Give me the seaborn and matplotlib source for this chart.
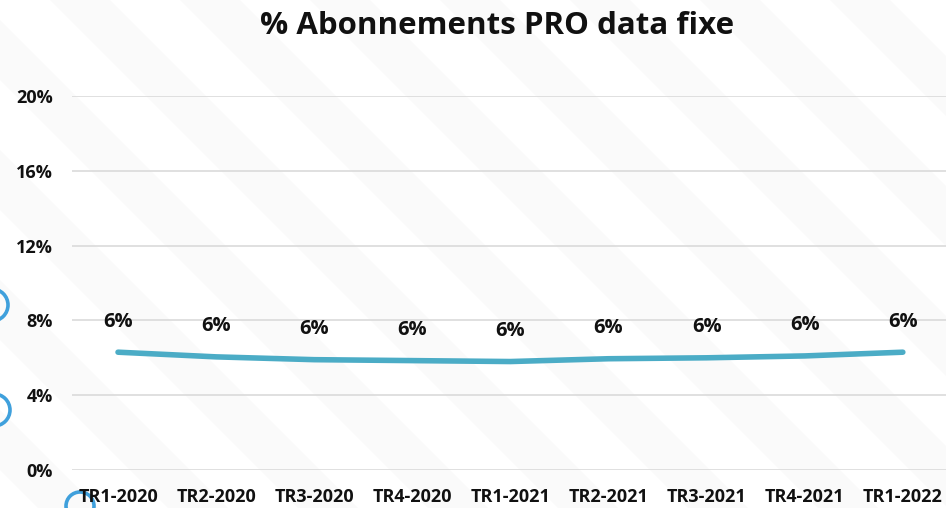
import matplotlib
matplotlib.use("Agg")
import matplotlib.pyplot as plt
import matplotlib.patches as mpatches
import pandas as pd
import seaborn as sns

# Quarterly share of PRO fixed-data subscriptions
quarters = ["TR1-2020", "TR2-2020", "TR3-2020", "TR4-2020", "TR1-2021",
            "TR2-2021", "TR3-2021", "TR4-2021", "TR1-2022"]
share = [0.063, 0.0605, 0.059, 0.0585, 0.058, 0.0595, 0.060, 0.061, 0.063]
yticks = [0.0, 0.04, 0.08, 0.12, 0.16, 0.20]
title = "% Abonnements PRO data fixe"

sns.set_theme(style="white")
plt.rcParams["font.family"] = ["Open Sans", "DejaVu Sans"]
plt.rcParams["font.weight"] = "bold"

df = pd.DataFrame({"quarter": quarters, "share": share, "pos": range(len(quarters))})

fig = plt.figure(figsize=(9.46, 5.08), dpi=100)
fig.patch.set_facecolor("white")

# faint diagonal bands in the background
bg = fig.add_axes([0, 0, 1, 1], zorder=-2)
bg.set_xlim(0, 946)
bg.set_ylim(508, 0)
bg.axis("off")
for x0 in range(-600, 1000, 130):
    band = mpatches.Polygon([(x0, 0), (x0 + 60, 0), (x0 + 60 + 600, 600), (x0 + 600, 600)],
                            closed=True, facecolor="#fafafa", edgecolor="none")
    bg.add_patch(band)
# decorative rings on the left edge
for cx, cy, r in [(-8, 305, 16), (-6, 410, 16), (80, 506, 14)]:
    bg.add_patch(mpatches.Circle((cx, cy), r, fill=False, edgecolor="#3fa0dc", linewidth=2.6))

ax = fig.add_axes([72 / 946, 1 - 470 / 508, 1 - 72 / 946, (470 - 96) / 508])
ax.patch.set_alpha(0)

sns.lineplot(data=df, x="pos", y="share", ax=ax, color="#4bacc6", linewidth=4.0,
             solid_capstyle="round", solid_joinstyle="round")

for p, v in zip(df["pos"], df["share"]):
    ax.annotate(f"{v * 100:.0f}%", (p, v), xytext=(0, 22), textcoords="offset points",
                ha="center", va="center", fontsize=14.5, fontweight="bold", color="#111111")

ax.set_xlim(-0.469, 8.44)
ax.set_ylim(0, 0.20)
ax.set_yticks(yticks)
ax.set_yticklabels([f"{t * 100:.0f}%" for t in yticks])
ax.set_xticks(range(len(quarters)))
ax.set_xticklabels(quarters)
ax.tick_params(axis="both", length=0, labelsize=13, colors="#111111")
ax.tick_params(axis="y", pad=14)
ax.tick_params(axis="x", pad=13)
for lab in ax.get_xticklabels() + ax.get_yticklabels():
    lab.set_fontweight("bold")
ax.yaxis.grid(True, color="#dddddd", linewidth=1.3)
ax.set_axisbelow(True)
ax.set_xlabel("")
ax.set_ylabel("")
for s in ax.spines.values():
    s.set_visible(False)

fig.text(497 / 946, 1 - 26 / 508, title, ha="center", va="center",
         fontsize=22.5, fontweight="bold", color="#111111")

fig.savefig("out.png", dpi=100)
